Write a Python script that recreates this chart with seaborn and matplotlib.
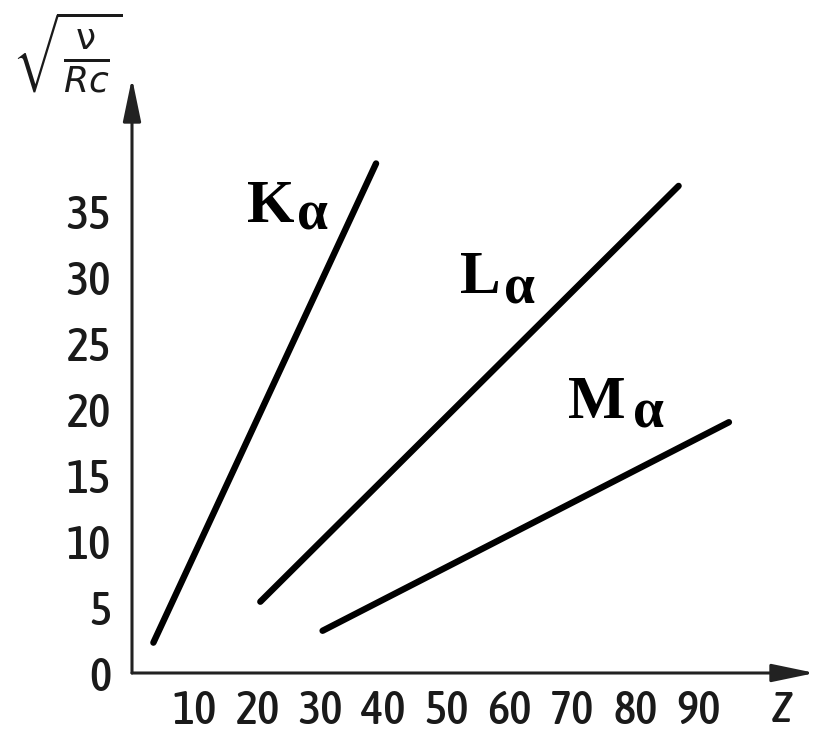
import matplotlib
matplotlib.use("Agg")
import matplotlib.pyplot as plt
from matplotlib import font_manager as fm
import seaborn as sns
import pandas as pd

# Moseley lines: sqrt(nu/Rc) against atomic number Z
series_names = ["K", "L", "M"]
k_z = [3.4, 38.8]
k_v = [2.3, 38.6]
l_z = [20.4, 86.9]
l_v = [5.4, 36.9]
m_z = [30.3, 94.9]
m_v = [3.2, 19.0]

x_ticks = [10, 20, 30, 40, 50, 60, 70, 80, 90]
y_ticks = [0, 5, 10, 15, 20, 25, 30, 35]

df = pd.concat([
    pd.DataFrame({"Z": k_z, "v": k_v, "series": series_names[0]}),
    pd.DataFrame({"Z": l_z, "v": l_v, "series": series_names[1]}),
    pd.DataFrame({"Z": m_z, "v": m_v, "series": series_names[2]}),
], ignore_index=True)

sns.set_theme(style="white")
plt.rcParams["mathtext.fontset"] = "dejavusans"


def narrow_sans(size, style="normal"):
    """Pick a condensed sans face for the numerals if one is installed."""
    best = None
    for f in fm.fontManager.ttflist:
        name = f.name.lower()
        path = f.fname.lower()
        stretch = str(f.stretch).lower()
        narrow = ("condensed" in stretch or "narrow" in name
                  or "condensed" in name or "condensed" in path
                  or "narrow" in path)
        if not narrow or "mono" in name or "cjk" in name:
            continue
        if "serif" in name and "sans" not in name:
            continue
        w = f.weight if isinstance(f.weight, int) else 400
        score = abs(w - 500) + (0 if f.style == style else 1000)
        if best is None or score < best[0]:
            best = (score, f.fname)
    if best is not None:
        return fm.FontProperties(fname=best[1], size=size)
    return fm.FontProperties(family="DejaVu Sans", style=style, size=size * 0.85)


W, H = 817, 733
fig = plt.figure(figsize=(W / 100, H / 100), dpi=100)
ax = fig.add_axes([132 / W, (H - 673) / H, (815 - 132) / W, (673 - 78) / H])

sns.lineplot(data=df, x="Z", y="v", hue="series", palette=["black"] * 3,
             estimator=None, legend=False, linewidth=4.6,
             solid_capstyle="round", ax=ax)

ax.set_xlim(0, (815 - 132) / 6.29)
ax.set_ylim(0, (673 - 78) / 13.2)

for s in ax.spines.values():
    s.set_visible(False)

# axes drawn as arrows
arrow = dict(arrowstyle="-|>,head_length=1.2,head_width=0.25", lw=2.2,
             color="#222222", shrinkA=0, shrinkB=0, mutation_scale=22)
ax.annotate("", xy=(1.0, 0), xytext=(0, 0), xycoords="axes fraction",
            arrowprops=arrow, annotation_clip=False)
ax.annotate("", xy=(0, 1.0), xytext=(0, 0), xycoords="axes fraction",
            arrowprops=arrow, annotation_clip=False)

tick_fp = narrow_sans(34)
ax.set_xticks(x_ticks)
ax.set_xticklabels([str(t) for t in x_ticks], fontproperties=tick_fp,
                   color="#1a1a1a")
ax.set_yticks(y_ticks)
ax.set_yticklabels([str(t) for t in y_ticks], fontproperties=tick_fp,
                   color="#1a1a1a")
ax.tick_params(axis="both", direction="in", length=9, width=1.6, color="#333333")
ax.tick_params(axis="x", pad=11)
ax.tick_params(axis="y", pad=15)
ax.set_xlabel("")
ax.set_ylabel("")

# line labels: bold letter with alpha subscript
serif = ["Liberation Serif", "DejaVu Serif"]
labels = [("K", 18.3, 34.2, 26.3, 33.6),
          ("L", 52.1, 28.8, 59.2, 28.0),
          ("M", 69.3, 19.3, 79.6, 18.6)]
for letter, x0, y0, x1, y1 in labels:
    ax.text(x0, y0, letter, family=serif, fontweight="bold", fontsize=44,
            ha="left", va="baseline", color="black")
    ax.text(x1, y1, "α", family=serif, fontweight="bold", fontsize=40,
            ha="left", va="baseline", color="black")

z_fp = narrow_sans(32, style="italic")
ax.text(103.3, -3.7, "Z", fontproperties=z_fp, ha="center", va="baseline",
        color="#1a1a1a")

fig.text(12 / W, 1 - 9 / H, r"$\sqrt{\frac{\mathrm{\nu}}{Rc}}$",
         fontsize=37, ha="left", va="top", color="#1a1a1a")

fig.savefig("out.png", dpi=100, facecolor="white")
